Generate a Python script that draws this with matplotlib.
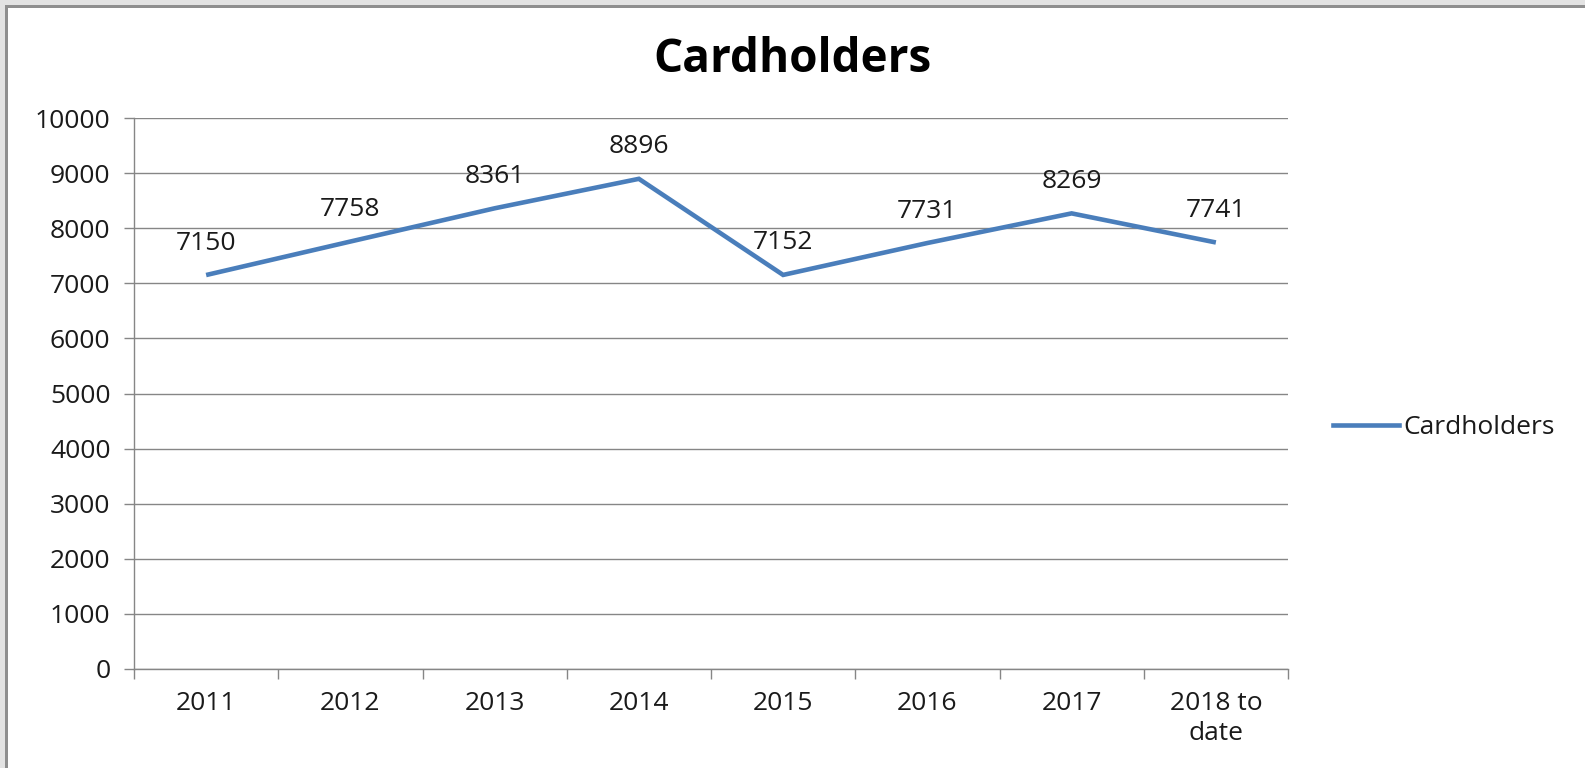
import matplotlib
matplotlib.use('Agg')
import matplotlib.pyplot as plt
from matplotlib.patches import Rectangle
from matplotlib.lines import Line2D
from matplotlib.ticker import FixedLocator
import numpy as np

categories = ['2011', '2012', '2013', '2014', '2015', '2016', '2017', '2018 to\ndate']
cardholders = [7150, 7758, 8361, 8896, 7152, 7731, 8269, 7741]
y_ticks = [0, 1000, 2000, 3000, 4000, 5000, 6000, 7000, 8000, 9000, 10000]

W, H = 1585, 768
plt.rcParams['font.family'] = ['Open Sans', 'DejaVu Sans']
line_color = '#4a7ebb'
grid_color = '#868686'
text_color = '#1a1a1a'
fs = 19

fig = plt.figure(figsize=(W / 100, H / 100), dpi=100)
fig.patch.set_facecolor('white')

# grey frame on the top and left edges
fig.patches.append(Rectangle((0, 1 - 5 / H), 1, 5 / H, transform=fig.transFigure,
                             facecolor='#e3e3e3', edgecolor='none', zorder=0))
fig.patches.append(Rectangle((0, 0), 5 / W, 1, transform=fig.transFigure,
                             facecolor='#e3e3e3', edgecolor='none', zorder=0))
fig.patches.append(Rectangle((5 / W, 1 - 8 / H), 1, 3 / H, transform=fig.transFigure,
                             facecolor='#8f8f8f', edgecolor='none', zorder=0))
fig.patches.append(Rectangle((5 / W, 0), 3 / W, 1 - 5 / H, transform=fig.transFigure,
                             facecolor='#8f8f8f', edgecolor='none', zorder=0))

left, right, top, bottom = 134, 1288, 118, 669
ax = fig.add_axes([left / W, 1 - bottom / H, (right - left) / W, (bottom - top) / H])

x = np.arange(len(categories))
ax.plot(x, cardholders, color=line_color, linewidth=3.3, solid_joinstyle='miter',
        solid_capstyle='butt', zorder=3)
for xi, v in zip(x, cardholders):
    ax.annotate(str(v), (xi, v), xytext=(0, 23), textcoords='offset points',
                ha='center', va='center', fontsize=fs, color=text_color)

ax.set_xlim(-0.5, len(categories) - 0.5)
ax.set_ylim(0, 10000)
ax.yaxis.set_major_locator(FixedLocator(y_ticks))
ax.set_yticklabels([str(t) for t in y_ticks])
ax.set_xticks(x)
ax.set_xticklabels(categories, linespacing=1.25)
ax.xaxis.set_minor_locator(FixedLocator(np.arange(-0.5, len(categories), 1.0)))

ax.grid(axis='y', color=grid_color, linewidth=1.0)
ax.set_axisbelow(True)
for side in ['top', 'right']:
    ax.spines[side].set_visible(False)
for side in ['left', 'bottom']:
    ax.spines[side].set_color(grid_color)
    ax.spines[side].set_linewidth(1.0)

ax.tick_params(axis='y', length=7, width=1.0, color=grid_color, labelsize=fs,
               labelcolor=text_color, pad=10)
ax.tick_params(axis='x', which='major', length=0, labelsize=fs,
               labelcolor=text_color, pad=16)
ax.tick_params(axis='x', which='minor', length=7, width=1.0, color=grid_color)

fig.text(0.5, 1 - 60 / H, 'Cardholders', ha='center', va='center',
         fontsize=33, fontweight='bold', color='black')

legline = Line2D([], [], color=line_color, linewidth=3.3)
fig.legend([legline], ['Cardholders'], loc='center left',
           bbox_to_anchor=(1333 / W, 1 - 428 / H), frameon=False,
           fontsize=fs, handlelength=2.5, handletextpad=0.15,
           borderpad=0, borderaxespad=0, labelcolor=text_color)

fig.savefig('out.png', dpi=100)
